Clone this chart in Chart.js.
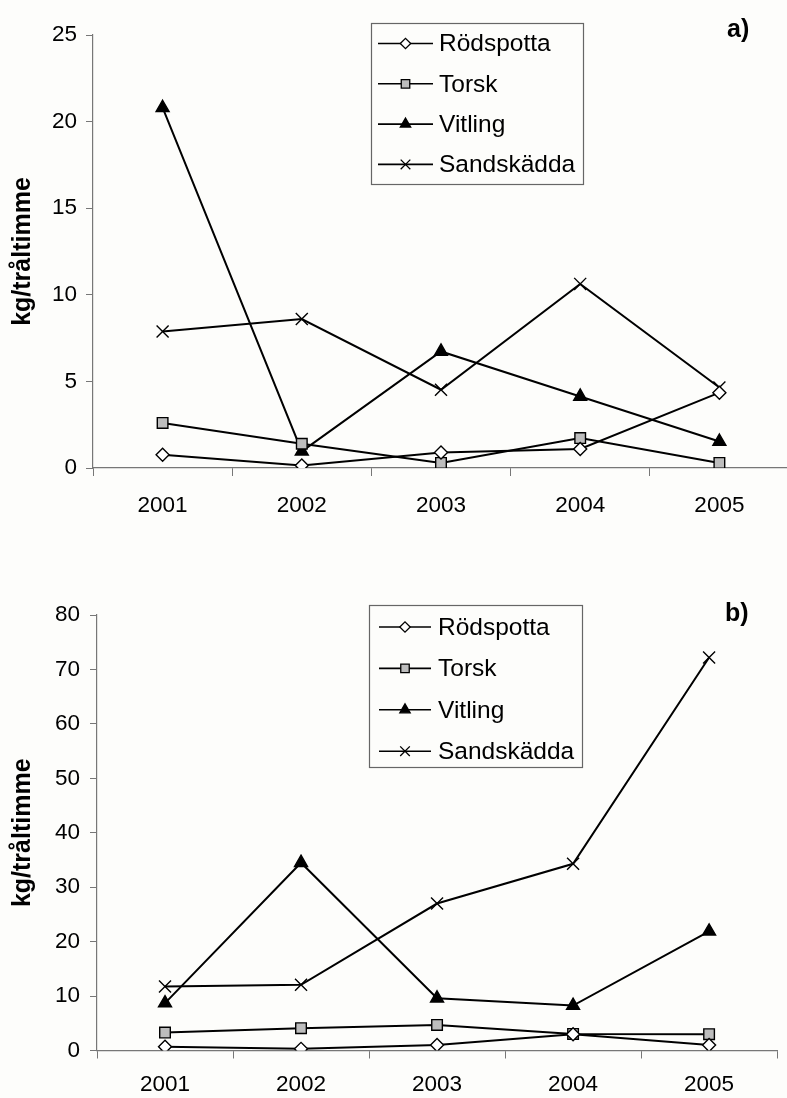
<!DOCTYPE html>
<html>
<head>
<meta charset="utf-8">
<script src="https://cdn.jsdelivr.net/npm/chart.js@4.4.1/dist/chart.umd.min.js"></script>
<style>
  html, body { margin: 0; padding: 0; background: #fdfdfb; overflow: hidden; width: 787px; height: 1098px; }
  .panel { position: absolute; left: 0; }
</style>
</head>
<body>
<div class="panel" style="top:0"><canvas id="chartA" width="800" height="549"></canvas></div>
<div class="panel" style="top:549px"><canvas id="chartB" width="787" height="549"></canvas></div>
<script>
// years on the x axis
const years = ['2001', '2002', '2003', '2004', '2005'];

// panel a) kg/tråltimme
const rodspottaA = [0.77, 0.15, 0.9, 1.1, 4.35];
const torskA = [2.6, 1.4, 0.29, 1.73, 0.29];
const vitlingA = [20.8, 0.96, 6.73, 4.13, 1.53];
const sandskaddaA = [7.88, 8.6, 4.52, 10.63, 4.65];

// panel b) kg/tråltimme
const rodspottaB = [0.7, 0.3, 1.0, 3.0, 1.0];
const torskB = [3.3, 4.1, 4.7, 3.05, 3.0];
const vitlingB = [8.7, 34.5, 9.6, 8.25, 21.9];
const sandskaddaB = [11.75, 12.06, 27.0, 34.3, 72.2];

const seriesNames = ['Rödspotta', 'Torsk', 'Vitling', 'Sandskädda'];

Chart.defaults.font.family = '"Liberation Sans", Arial, sans-serif';
Chart.defaults.color = '#000';

function makeDatasets(rod, torsk, vit, sand) {
  const common = {
    borderColor: '#000',
    borderWidth: 2,
    pointBorderColor: '#000',
    pointBorderWidth: 1.4,
    tension: 0,
    fill: false
  };
  return [
    Object.assign({ label: seriesNames[0], data: rod, pointStyle: 'rectRot', pointRadius: 6.5, pointBackgroundColor: '#ffffff' }, common),
    Object.assign({ label: seriesNames[1], data: torsk, pointStyle: 'rect', pointRadius: 7.5, pointBackgroundColor: '#bdbdbd' }, common),
    Object.assign({ label: seriesNames[2], data: vit, pointStyle: 'triangle', pointRadius: 7.5, pointBackgroundColor: '#000' }, common),
    Object.assign({ label: seriesNames[3], data: sand, pointStyle: 'crossRot', pointRadius: 8.5, pointBackgroundColor: '#000', pointBorderWidth: 1.8 }, common)
  ];
}

// legend box with line + marker, drawn inside the plot, plus the panel letter
const boxLegend = {
  id: 'boxLegend',
  afterDraw(chart, args, opts) {
    const ctx = chart.ctx;
    ctx.save();
    ctx.fillStyle = '#fdfdfb';
    ctx.fillRect(opts.x, opts.y, opts.w, opts.h);
    ctx.strokeStyle = '#666';
    ctx.lineWidth = 1.2;
    ctx.strokeRect(opts.x + 0.5, opts.y + 0.5, opts.w, opts.h);

    chart.data.datasets.forEach((ds, i) => {
      const y = opts.row0 + i * opts.rowGap;
      ctx.beginPath();
      ctx.moveTo(opts.line0, y);
      ctx.lineTo(opts.line1, y);
      ctx.strokeStyle = '#000';
      ctx.lineWidth = 1.6;
      ctx.stroke();
      if (Chart.helpers && Chart.helpers.drawPoint) {
        ctx.fillStyle = ds.pointBackgroundColor;
        ctx.strokeStyle = '#000';
        ctx.lineWidth = 1.3;
        Chart.helpers.drawPoint(ctx, {
          pointStyle: ds.pointStyle,
          radius: ds.pointRadius * 0.8,
          borderWidth: 1.3,
          rotation: 0
        }, (opts.line0 + opts.line1) / 2, y);
      }
      ctx.fillStyle = '#000';
      ctx.font = '24.5px "Liberation Sans", Arial, sans-serif';
      ctx.textBaseline = 'middle';
      ctx.textAlign = 'left';
      ctx.fillText(ds.label, opts.textX, y + 1);
    });

    ctx.font = 'bold 25px "Liberation Sans", Arial, sans-serif';
    ctx.textBaseline = 'middle';
    ctx.fillText(opts.panel, opts.panelX, opts.panelY);
    ctx.restore();
  }
};

function makeChart(id, data, cfg) {
  return new Chart(document.getElementById(id), {
    type: 'line',
    data: { labels: years, datasets: data },
    plugins: [boxLegend],
    options: {
      responsive: false,
      animation: false,
      layout: { padding: { top: cfg.top, right: cfg.right, left: 0, bottom: 0 } },
      plugins: {
        legend: { display: false },
        tooltip: { enabled: false },
        boxLegend: cfg.legend
      },
      scales: {
        x: {
          offset: true,
          grid: { display: true, offset: true, drawOnChartArea: false, color: '#777', tickLength: 8, lineWidth: 1 },
          border: { color: '#777', width: 1.2 },
          ticks: { font: { size: 22.5 }, padding: cfg.xPad, maxRotation: 0 },
          afterFit(scale) { scale.height = cfg.xHeight; scale.paddingLeft = 0; scale.paddingRight = 0; }
        },
        y: {
          min: 0,
          max: cfg.max,
          ticks: { stepSize: cfg.step, font: { size: 22.5 }, padding: cfg.tickPad },
          grid: { display: true, drawOnChartArea: false, color: '#777', tickLength: 7, lineWidth: 1 },
          border: { color: '#777', width: 1.2 },
          title: { display: true, text: 'kg/tråltimme', font: { size: 25, weight: 'bold' }, padding: { top: 8, bottom: 0 } },
          afterFit(scale) { scale.width = cfg.yWidth; scale.paddingTop = 0; scale.paddingBottom = 0; }
        }
      }
    }
  });
}

makeChart('chartA', makeDatasets(rodspottaA, torskA, vitlingA, sandskaddaA), {
  top: 35, right: 11, xHeight: 81, yWidth: 93, max: 25, step: 5, tickPad: 9, xPad: 16,
  legend: { x: 371, y: 23, w: 212, h: 161, row0: 43.5, rowGap: 40.3, line0: 378, line1: 433, textX: 439, panel: 'a)', panelX: 727, panelY: 30 }
});

makeChart('chartB', makeDatasets(rodspottaB, torskB, vitlingB, sandskaddaB), {
  top: 66, right: 1, xHeight: 47.5, yWidth: 97, max: 80, step: 10, tickPad: 10, xPad: 13,
  legend: { x: 369, y: 56, w: 213, h: 162, row0: 78, rowGap: 41.4, line0: 379, line1: 431, textX: 438, panel: 'b)', panelX: 725, panelY: 65 }
});
</script>
</body>
</html>
